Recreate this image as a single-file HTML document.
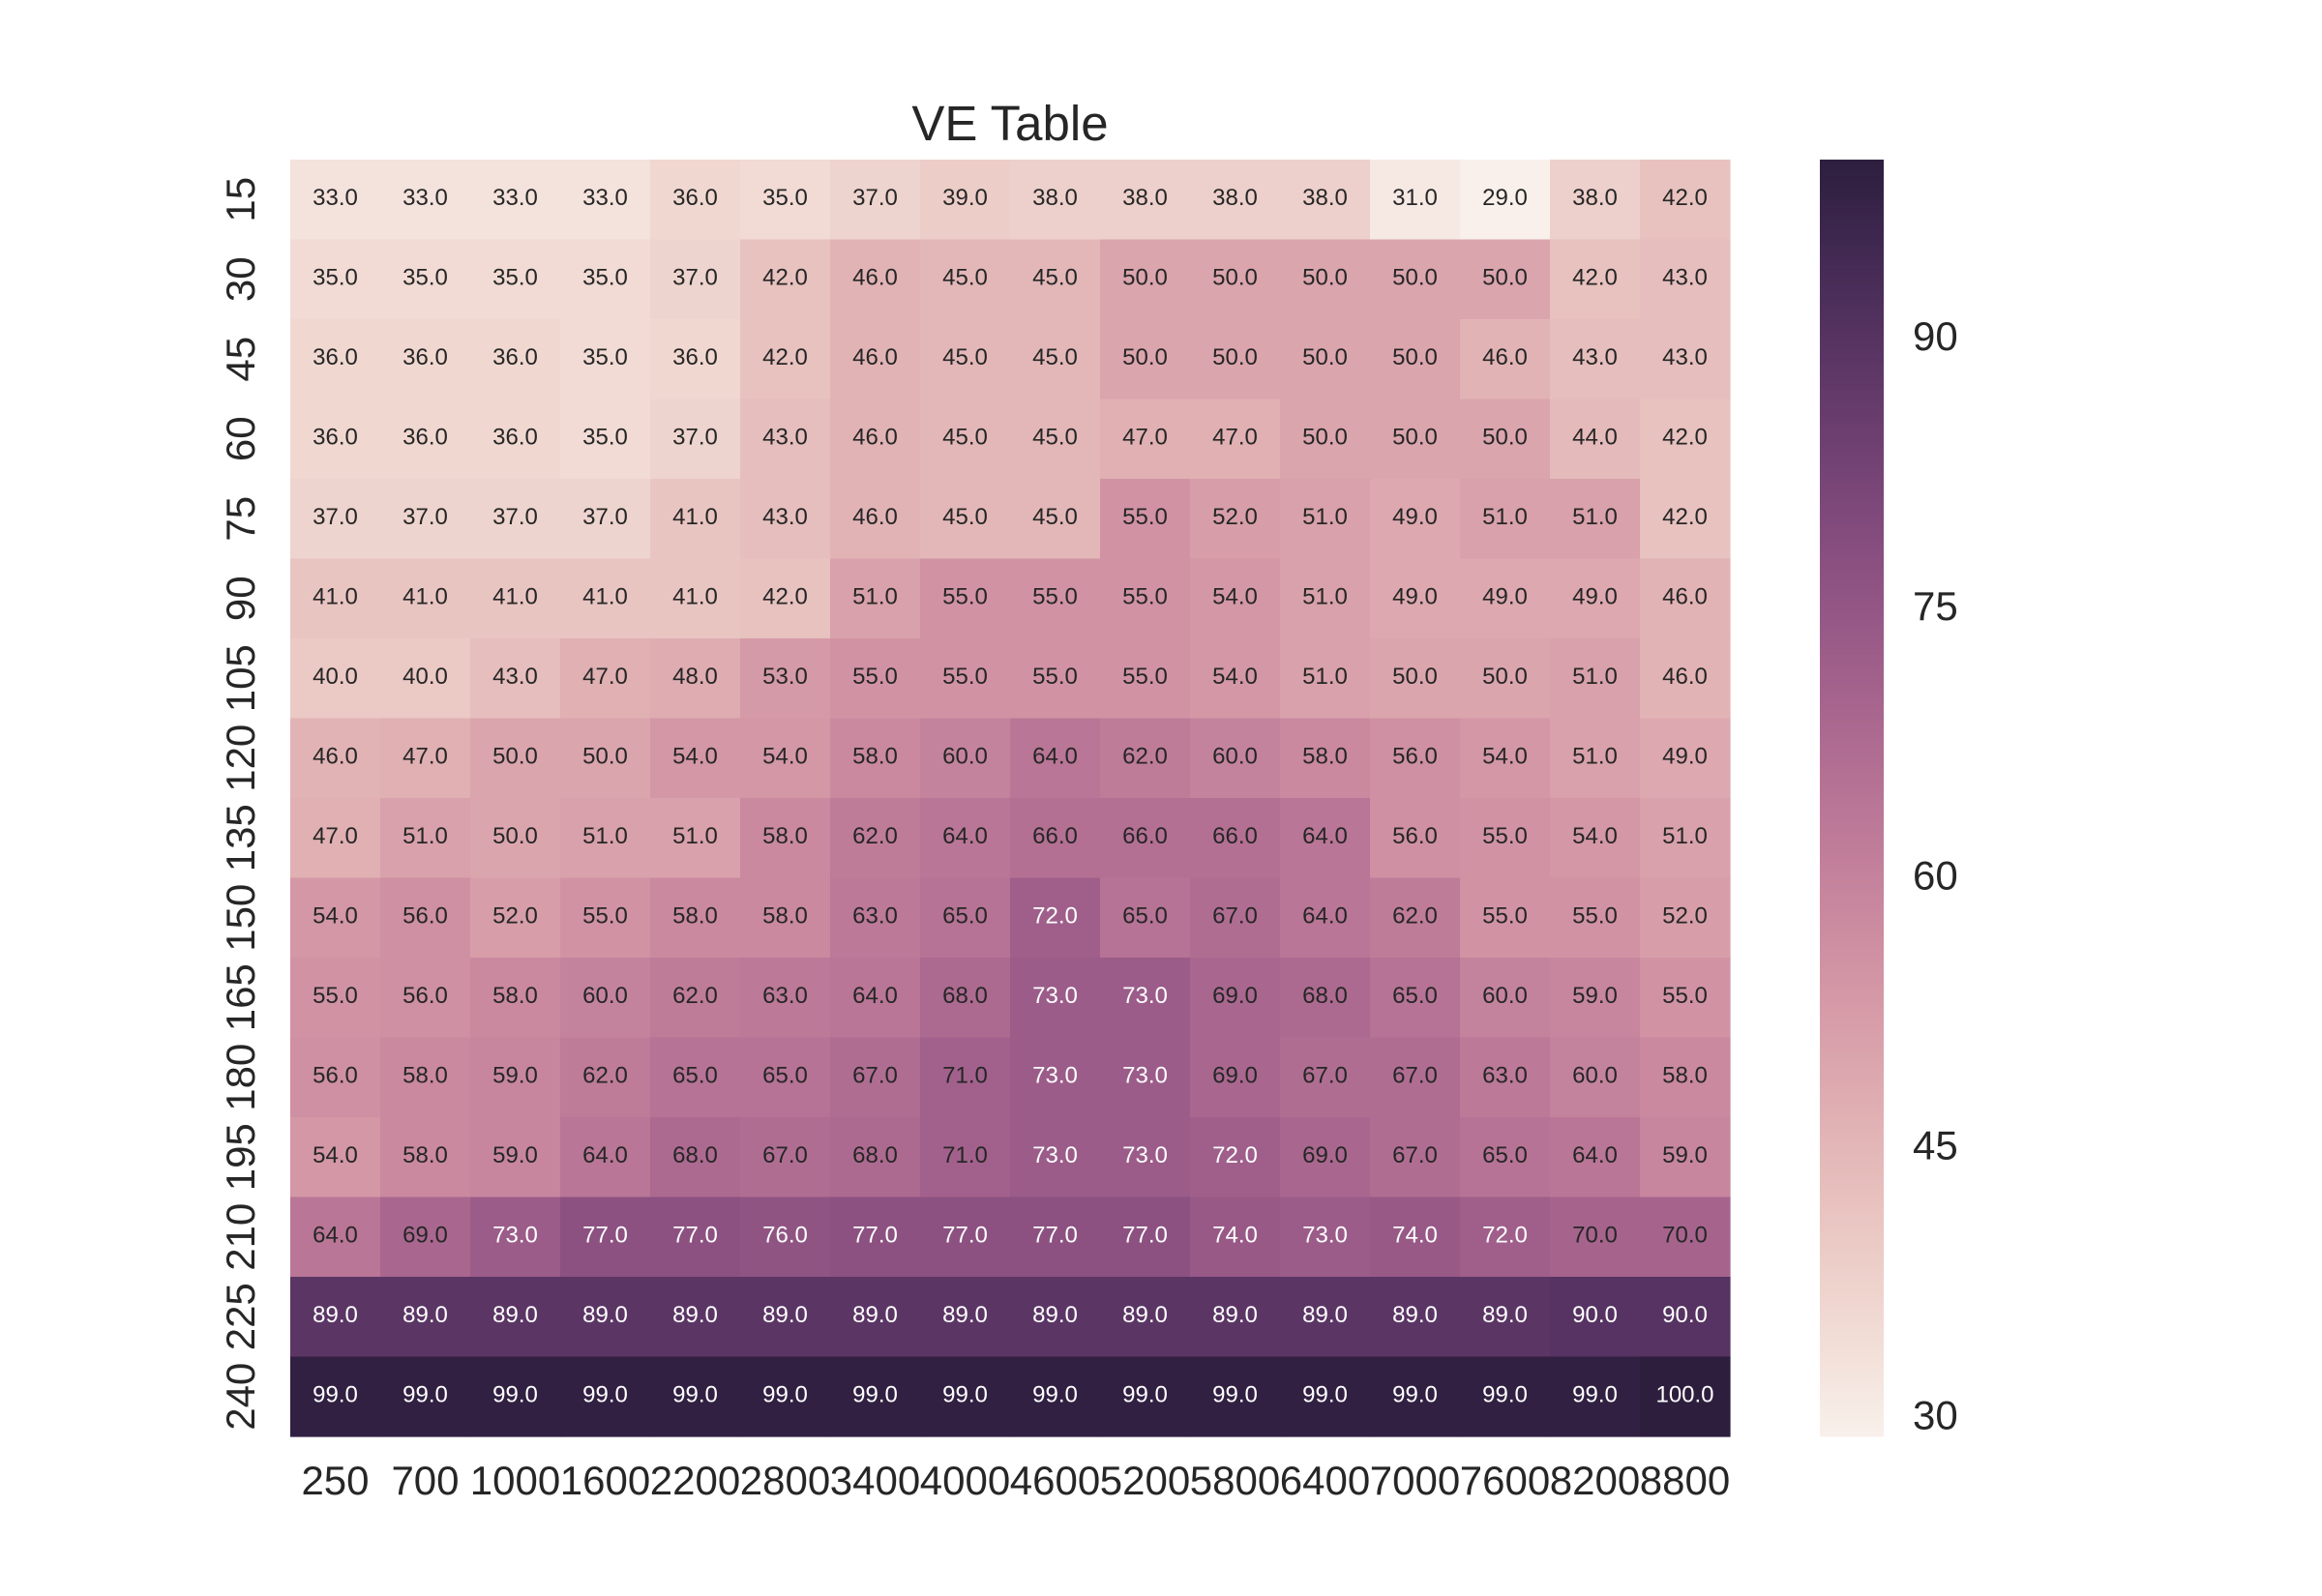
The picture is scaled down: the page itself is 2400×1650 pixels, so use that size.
<!DOCTYPE html>
<html><head><meta charset="utf-8"><style>
html,body{margin:0;padding:0;background:#fff;}
svg{display:block;font-family:"Liberation Sans",sans-serif;}
</style></head><body>
<svg id="chart" width="2400" height="1650" viewBox="0 0 2400 1650" xmlns="http://www.w3.org/2000/svg">
<rect width="2400" height="1650" fill="#fff"/>
<text x="1044" y="145" font-size="51" fill="#262626" text-anchor="middle">VE Table</text>
<g id="cells"></g>
<g id="ylabels"></g>
<g id="xlabels"></g>
<g id="cbar"></g>
</svg>
<script>
const rowLabels = ["15","30","45","60","75","90","105","120","135","150","165","180","195","210","225","240"];
const colLabels = ["250","700","1000","1600","2200","2800","3400","4000","4600","5200","5800","6400","7000","7600","8200","8800"];
const values = [
[33,33,33,33,36,35,37,39,38,38,38,38,31,29,38,42],
[35,35,35,35,37,42,46,45,45,50,50,50,50,50,42,43],
[36,36,36,35,36,42,46,45,45,50,50,50,50,46,43,43],
[36,36,36,35,37,43,46,45,45,47,47,50,50,50,44,42],
[37,37,37,37,41,43,46,45,45,55,52,51,49,51,51,42],
[41,41,41,41,41,42,51,55,55,55,54,51,49,49,49,46],
[40,40,43,47,48,53,55,55,55,55,54,51,50,50,51,46],
[46,47,50,50,54,54,58,60,64,62,60,58,56,54,51,49],
[47,51,50,51,51,58,62,64,66,66,66,64,56,55,54,51],
[54,56,52,55,58,58,63,65,72,65,67,64,62,55,55,52],
[55,56,58,60,62,63,64,68,73,73,69,68,65,60,59,55],
[56,58,59,62,65,65,67,71,73,73,69,67,67,63,60,58],
[54,58,59,64,68,67,68,71,73,73,72,69,67,65,64,59],
[64,69,73,77,77,76,77,77,77,77,74,73,74,72,70,70],
[89,89,89,89,89,89,89,89,89,89,89,89,89,89,90,90],
[99,99,99,99,99,99,99,99,99,99,99,99,99,99,99,100]
];
const cbarTicks = [30,45,60,75,90];
const vmin = 29, vmax = 100;

const NS = "http://www.w3.org/2000/svg";
const X0 = 300, X1 = 1788, Y0 = 165, Y1 = 1485;
const CB0 = 1881, CB1 = 1947;
function xPos(i){ return X0 + (X1-X0)*i/colLabels.length; }
function yPos(j){ return Y0 + (Y1-Y0)*j/rowLabels.length; }
function cbY(v){ return Y1 - (v-vmin)/(vmax-vmin)*(Y1-Y0); }

function cubehelix(t){
  const light=0.95, dark=0.15, start=0, rot=0.4, hue=0.8;
  const x = light + (dark-light)*Math.max(0,Math.min(1,t));
  const amp = hue*x*(1-x)/2;
  const phi = 2*Math.PI*(start/3 + rot*x);
  const c=Math.cos(phi), s=Math.sin(phi);
  let r = x + amp*(-0.14861*c + 1.78277*s);
  let g = x + amp*(-0.29227*c - 0.90649*s);
  let b = x + amp*(1.97294*c);
  return [r,g,b].map(v=>Math.max(0,Math.min(1,v)));
}
function colorOf(v){ return cubehelix((v-vmin)/(vmax-vmin)); }
function css(rgb){ return "rgb("+rgb.map(v=>Math.round(v*255)).join(",")+")"; }
function lum(rgb){
  const l = rgb.map(v=> v<=0.03928 ? v/12.92 : Math.pow((v+0.055)/1.055,2.4));
  return 0.2126*l[0]+0.7152*l[1]+0.0722*l[2];
}
const lumThreshold = lum(colorOf(71.5));

const cells = document.getElementById("cells");
values.forEach((row,j)=>{
  row.forEach((v,i)=>{
    const rgb = colorOf(v);
    const r = document.createElementNS(NS,"rect");
    r.setAttribute("x", xPos(i)); r.setAttribute("y", yPos(j));
    r.setAttribute("width", xPos(i+1)-xPos(i)+0.6); r.setAttribute("height", yPos(j+1)-yPos(j)+0.6);
    r.setAttribute("fill", css(rgb));
    
    
    cells.appendChild(r);
    const t = document.createElementNS(NS,"text");
    t.setAttribute("x", (xPos(i)+xPos(i+1))/2);
    t.setAttribute("y", (yPos(j)+yPos(j+1))/2 + 5.5);
    t.setAttribute("text-anchor","middle");
    t.setAttribute("font-size","24");
    t.setAttribute("fill", lum(rgb) > lumThreshold ? "#262626" : "#ffffff");
    t.textContent = v.toFixed(1);
    
    
    cells.appendChild(t);
  });
});

const yl = document.getElementById("ylabels");
rowLabels.forEach((lab,j)=>{
  const cy = (yPos(j)+yPos(j+1))/2;
  const t = document.createElementNS(NS,"text");
  t.setAttribute("transform","translate(263,"+cy+") rotate(-90)");
  t.setAttribute("text-anchor","middle");
  t.setAttribute("font-size","42");
  t.setAttribute("fill","#262626");
  t.textContent = lab;
  
  
  yl.appendChild(t);
});

const xl = document.getElementById("xlabels");
colLabels.forEach((lab,i)=>{
  const t = document.createElementNS(NS,"text");
  t.setAttribute("x", (xPos(i)+xPos(i+1))/2);
  t.setAttribute("y", 1545);
  t.setAttribute("text-anchor","middle");
  t.setAttribute("font-size","42");
  t.setAttribute("fill","#262626");
  t.textContent = lab;
  
  
  xl.appendChild(t);
});

const cb = document.getElementById("cbar");
const steps = 256;
for(let k=0;k<steps;k++){
  const v0 = vmin + (vmax-vmin)*k/steps, v1 = vmin + (vmax-vmin)*(k+1)/steps;
  const r = document.createElementNS(NS,"rect");
  r.setAttribute("x", CB0); r.setAttribute("width", CB1-CB0);
  r.setAttribute("y", cbY(v1)); r.setAttribute("height", cbY(v0)-cbY(v1)+0.5);
  r.setAttribute("fill", css(colorOf((v0+v1)/2)));
  
  
  cb.appendChild(r);
}
cbarTicks.forEach(v=>{
  const t = document.createElementNS(NS,"text");
  t.setAttribute("x", 1977);
  t.setAttribute("y", cbY(v)+11);
  t.setAttribute("font-size","42");
  t.setAttribute("fill","#262626");
  t.textContent = String(v);
  
  
  cb.appendChild(t);
});
</script>
</body></html>
